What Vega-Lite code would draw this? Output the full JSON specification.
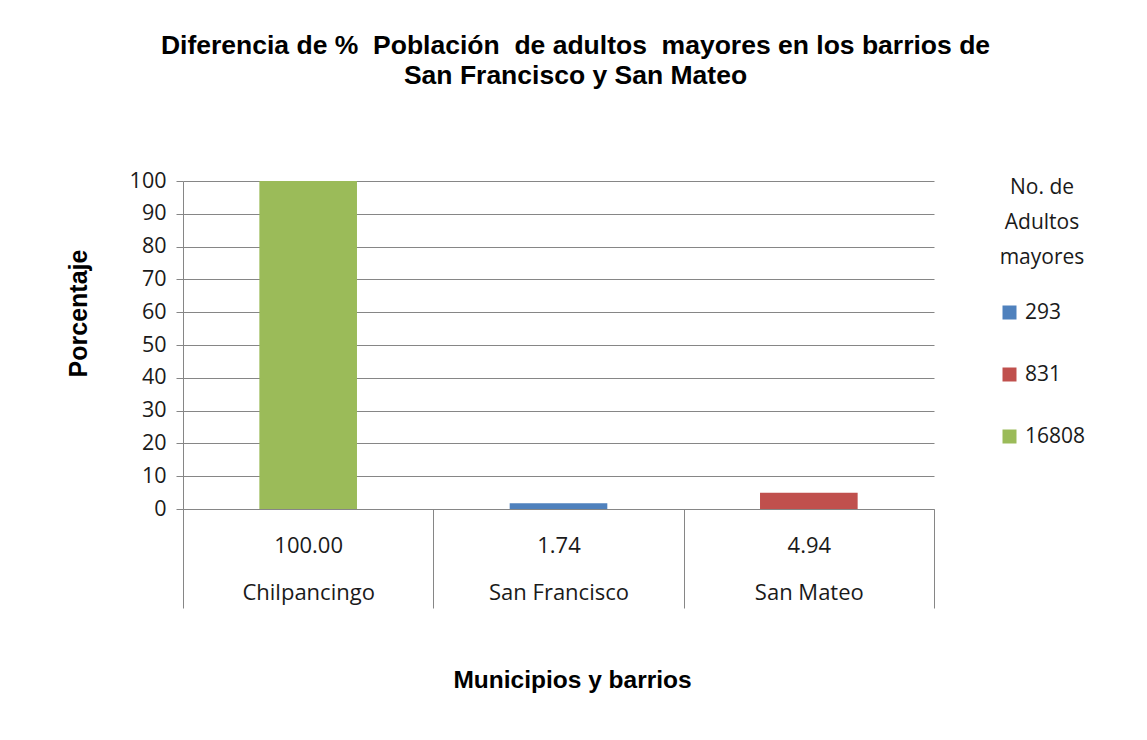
{
  "$schema": "https://vega.github.io/schema/vega-lite/v6.json",
  "width": 751,
  "height": 328,
  "autosize": {"type": "none"},
  "padding": {"left": 183, "top": 181, "right": 213, "bottom": 231},
  "background": "white",
  "config": {"view": {"stroke": null}, "font": "Open Sans"},
  "title": {
    "text": ["Diferencia de %\u00a0 Población\u00a0 de adultos\u00a0 mayores en los barrios de", "San Francisco y San Mateo"],
    "font": "Liberation Sans",
    "fontWeight": "bold",
    "fontSize": 26.5,
    "lineHeight": 30,
    "color": "#000000",
    "anchor": "middle",
    "frame": "group",
    "dx": 17,
    "offset": 81
  },
  "data": {
    "values": [
      {"barrio": "Chilpancingo", "porcentaje": 100.00, "adultos": "16808"},
      {"barrio": "San Francisco", "porcentaje": 1.74, "adultos": "293"},
      {"barrio": "San Mateo", "porcentaje": 4.94, "adultos": "831"}
    ]
  },
  "transform": [
    {"calculate": "format(datum.porcentaje, '.2f') + '|' + datum.barrio", "as": "etiqueta"}
  ],
  "mark": {"type": "bar", "width": {"band": 0.39}},
  "encoding": {
    "x": {
      "field": "etiqueta",
      "type": "nominal",
      "sort": null,
      "scale": {"paddingInner": 0, "paddingOuter": 0},
      "axis": {
        "title": "Municipios y barrios",
        "labelExpr": "isString(datum.value) ? split(datum.value, '|') : ''",
        "labelAngle": 0,
        "labelFontSize": 22,
        "labelColor": "#1a1a1a",
        "labelLineHeight": 47,
        "labelPadding": -73,
        "tickBand": "extent",
        "tickSize": 99,
        "tickColor": "#868686",
        "domainColor": "#868686",
        "titleFont": "Liberation Sans",
        "titleFontWeight": "bold",
        "titleFontSize": 24.5,
        "titleColor": "#000000",
        "titleX": 389,
        "titleY": 171,
        "titleBaseline": "middle"
      }
    },
    "y": {
      "field": "porcentaje",
      "type": "quantitative",
      "scale": {"domain": [0, 100], "nice": false},
      "axis": {
        "title": "Porcentaje",
        "values": [0, 10, 20, 30, 40, 50, 60, 70, 80, 90, 100],
        "grid": true,
        "gridColor": "#868686",
        "tickSize": 7,
        "tickColor": "#868686",
        "domainColor": "#868686",
        "labelFontSize": 21.5,
        "labelColor": "#1a1a1a",
        "labelPadding": 10,
        "titleFont": "Liberation Sans",
        "titleFontWeight": "bold",
        "titleFontSize": 25,
        "titleColor": "#000000",
        "titleX": -105,
        "titleY": 132,
        "titleBaseline": "middle",
        "titleAngle": -90
      }
    },
    "color": {
      "field": "adultos",
      "type": "nominal",
      "scale": {"domain": ["293", "831", "16808"], "range": ["#4F81BD", "#C0504D", "#9BBB59"]},
      "legend": {
        "orient": "none",
        "legendX": 816,
        "legendY": -4,
        "title": ["No. de", "Adultos", "mayores"],
        "titleFont": "Open Sans",
        "titleFontSize": 21,
        "titleFontWeight": "normal",
        "titleColor": "#1a1a1a",
        "titleLineHeight": 35,
        "titleAnchor": "middle",
        "titleAlign": "center",
        "titlePadding": 34,
        "symbolType": "square",
        "symbolSize": 196,
        "symbolStrokeWidth": 0,
        "symbolOpacity": 1,
        "labelFontSize": 21,
        "labelColor": "#1a1a1a",
        "labelOffset": 5,
        "rowPadding": 40
      }
    }
  }
}
